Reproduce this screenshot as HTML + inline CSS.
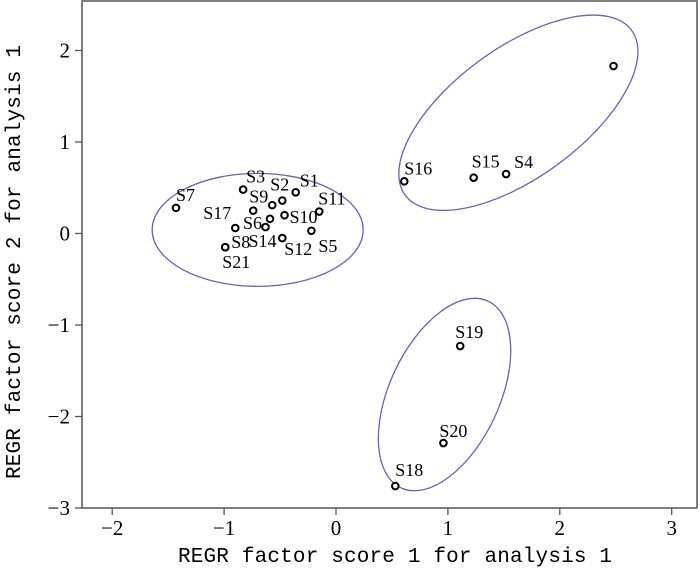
<!DOCTYPE html>
<html><head><meta charset="utf-8"><style>
html,body{margin:0;padding:0;background:#fff;}
svg{display:block;font-family:"Liberation Serif","Noto Serif CJK SC",serif;}
</style></head><body>
<svg id="chart" width="700" height="570">
<g id="axes"></g>
<g id="ellipses"></g>
<g id="points"></g>
</svg>
<script>
const xTicks=[-2,-1,0,1,2,3];
const yTicks=[2,1,0,-1,-2,-3];
const names=["S1","S2","S3","S4","S5","S6","S7","S8","S9","S10","S11","S12","S14","S15","S16","S17","S18","S19","S20","S21",""];
const xVals=[-0.36,-0.48,-0.83,1.52,-0.22,-0.59,-1.43,-0.99,-0.74,-0.46,-0.15,-0.48,-0.63,1.23,0.61,-0.90,0.53,1.11,0.96,-0.99,2.48];
const yVals=[0.45,0.36,0.48,0.65,0.03,0.16,0.28,-0.15,0.25,0.20,0.24,-0.05,0.07,0.61,0.57,0.06,-2.76,-1.23,-2.29,-0.15,1.83];
const extraX=[-0.57];
const extraY=[0.31];
const labelDX=[4,-12,3,8,7,-27,0,6,-4,5,-1,2,-17,-2,0,-32,0,-5,-4,-3,0];
const labelDY=[-6,-10,-7,-6,21,10,-7,1,-8,8,-7,17,20,-10,-7,-9,-10,-8,-6,21,0];
const ellCx=[-0.70,1.63,0.97];
const ellCy=[0.04,1.32,-1.76];
const ellA=[105.5,140,103];
const ellB=[56.5,65,55];
const ellRot=[0,-36,-65];

const X0=336, XS=111.9, Y0=233.5, YS=91.5;
const L=82,R=697,T=1,B=508;
const sx=v=>X0+v*XS, sy=v=>Y0-v*YS;
const NS="http://www.w3.org/2000/svg";
function mk(tag,parent,attrs){const e=document.createElementNS(NS,tag);for(const k in attrs)e.setAttribute(k,attrs[k]);parent.appendChild(e);return e;}
const ax=document.getElementById('axes');
let fr=mk('rect',ax,{x:L,y:T,width:R-L,height:B-T,fill:'none',stroke:'#555','stroke-width':1.5});


xTicks.forEach(t=>{
 let l=mk('line',ax,{x1:sx(t),x2:sx(t),y1:B,y2:B+7,stroke:'#555','stroke-width':1.3});
 
 
 let tx=mk('text',ax,{x:sx(t),y:B+27,'text-anchor':'middle','font-size':21});
 tx.textContent=t<0?'\u2212'+(-t):String(t);
 
 
});
yTicks.forEach(t=>{
 let l=mk('line',ax,{x1:L-7,x2:L,y1:sy(t),y2:sy(t),stroke:'#555','stroke-width':1.3});
 
 
 let tx=mk('text',ax,{x:L-12,y:sy(t)+7,'text-anchor':'end','font-size':21});
 tx.textContent=t<0?'\u2212'+(-t):String(t);
 
 
});
let xt=mk('text',ax,{x:395,y:562,'text-anchor':'middle','font-size':21,'font-family':'Liberation Mono, monospace',textLength:434});
xt.textContent='REGR factor score 1 for analysis 1';


let yt=mk('text',ax,{x:0,y:0,'text-anchor':'middle','font-size':21,'font-family':'Liberation Mono, monospace',textLength:434,transform:'translate(20,262) rotate(-90)'});
yt.textContent='REGR factor score 2 for analysis 1';



const eg=document.getElementById('ellipses');
ellCx.forEach((c,i)=>{
 const cx=sx(c),cy=sy(ellCy[i]);
 let e=mk('ellipse',eg,{cx:cx,cy:cy,rx:ellA[i],ry:ellB[i],fill:'none',stroke:'#6a63b0','stroke-width':1.3,transform:`rotate(${ellRot[i]} ${cx} ${cy})`});
 
 
});
const pg=document.getElementById('points');
xVals.forEach((v,i)=>{
 const px=sx(v),py=sy(yVals[i]);
 let c=mk('circle',pg,{cx:px,cy:py,r:3.3,fill:'#fff',stroke:'#000','stroke-width':2});
 
 
 if(names[i]){
  let t=mk('text',pg,{x:px+labelDX[i],y:py+labelDY[i],'font-size':18});
  t.textContent=names[i];
  
  
 }
});
extraX.forEach((v,i)=>{
 let c=mk('circle',pg,{cx:sx(v),cy:sy(extraY[i]),r:3.3,fill:'#fff',stroke:'#000','stroke-width':2});
 
 
});
</script>
</body></html>
